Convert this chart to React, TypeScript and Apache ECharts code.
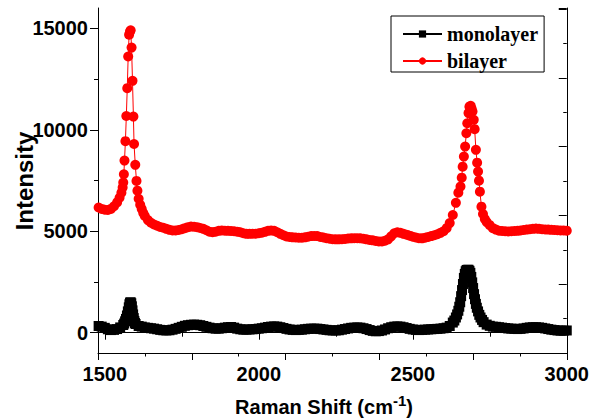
import React, { useEffect, useRef } from "react";
import * as echarts from "echarts";

const xLabelValues = [1500, 2000, 2500, 3000];
const xMinorTicks = [1750, 2250, 2750];
const yLabelValues = [0, 5000, 10000, 15000];
const yMinorTicks = [2500, 7500, 12500];
const seriesNames = ["monolayer", "bilayer"];

const monolayer: [number, number][] = [
  [1480, 330], [1490, 300], [1500, 240], [1510, 170], [1520, 130], [1530, 140], [1540, 180], [1550, 260],
  [1560, 380], [1563, 450], [1566, 560], [1569, 680], [1572, 850], [1575, 1050], [1578, 1250], [1580, 1400],
  [1582, 1480], [1584, 1500], [1586, 1450], [1588, 1300], [1590, 1100], [1592, 900], [1594, 720], [1596, 580],
  [1598, 480], [1600, 430], [1610, 330], [1620, 300], [1630, 260], [1640, 240], [1650, 220],
  [1660, 200], [1670, 170], [1680, 140], [1690, 120], [1700, 110], [1710, 120], [1720, 150], [1730, 190],
  [1740, 240], [1750, 290], [1760, 340], [1770, 370], [1780, 390], [1790, 400], [1800, 390], [1810, 370],
  [1820, 330], [1830, 290], [1840, 250], [1850, 220], [1860, 200], [1870, 200], [1880, 220], [1890, 250],
  [1900, 270], [1910, 280], [1920, 250], [1930, 200], [1940, 170], [1950, 150], [1960, 150], [1970, 160],
  [1980, 170], [1990, 180], [2000, 200], [2010, 220], [2020, 250], [2030, 280], [2040, 300], [2050, 310],
  [2060, 300], [2070, 270], [2080, 230], [2090, 190], [2100, 160], [2110, 140], [2120, 130], [2130, 140],
  [2140, 150], [2150, 170], [2160, 190], [2170, 200], [2180, 200], [2190, 200], [2200, 180], [2210, 160],
  [2220, 140], [2230, 120], [2240, 110], [2250, 110], [2260, 120], [2270, 150], [2280, 180], [2290, 210],
  [2300, 240], [2310, 250], [2320, 260], [2330, 250], [2340, 220], [2350, 180], [2360, 130], [2370, 90],
  [2380, 70], [2390, 80], [2400, 110], [2410, 160], [2420, 220], [2430, 270], [2440, 300], [2450, 310],
  [2460, 300], [2470, 270], [2480, 230], [2490, 190], [2500, 160], [2510, 140], [2520, 130], [2530, 140],
  [2540, 150], [2550, 160], [2560, 170], [2570, 180], [2580, 190], [2590, 200], [2600, 220], [2610, 250],
  [2620, 330], [2630, 500], [2635, 600], [2640, 750], [2644, 900], [2648, 1080], [2651, 1280], [2654, 1500],
  [2657, 1800], [2660, 2100], [2663, 2400], [2666, 2700], [2669, 2900], [2672, 3030], [2675, 3090], [2678, 3100],
  [2681, 3100], [2684, 3050], [2687, 2950], [2690, 2750], [2693, 2480], [2696, 2200], [2699, 1900], [2702, 1650],
  [2705, 1420], [2708, 1230], [2712, 1050], [2716, 880], [2720, 750], [2725, 630], [2730, 520],
  [2740, 400], [2750, 340], [2760, 300], [2770, 290], [2780, 270], [2790, 250],
  [2800, 230], [2810, 210], [2820, 200], [2830, 190], [2840, 180], [2850, 190], [2860, 210], [2870, 240],
  [2880, 260], [2890, 270], [2900, 270], [2910, 260], [2920, 240], [2930, 210], [2940, 180], [2950, 150],
  [2960, 130], [2970, 110], [2980, 100], [2990, 100], [3000, 110],
];

const bilayer: [number, number][] = [
  [1480, 6170], [1490, 6100], [1500, 6060], [1510, 6050], [1520, 6100], [1530, 6230], [1540, 6420], [1548, 6650],
  [1554, 6900], [1558, 7150], [1560, 7400], [1562, 7810], [1564, 8480], [1567, 9440], [1570, 10680], [1573, 12050],
  [1576, 13610], [1579, 14680], [1582, 14840], [1584, 14900], [1587, 14050], [1590, 12410], [1593, 10650], [1595, 9300],
  [1599, 8270], [1603, 7480], [1606, 7000], [1610, 6600], [1615, 6300], [1620, 6100], [1625, 5900], [1630, 5750],
  [1640, 5550], [1650, 5420], [1660, 5330], [1670, 5270], [1680, 5210], [1690, 5170], [1700, 5120], [1710, 5070],
  [1720, 5040], [1730, 5040], [1740, 5060], [1750, 5100], [1760, 5150], [1770, 5200], [1780, 5230], [1790, 5220],
  [1800, 5200], [1810, 5160], [1820, 5120], [1830, 5050], [1840, 4980], [1850, 4950], [1860, 4980], [1870, 5020],
  [1880, 5040], [1890, 5030], [1900, 5020], [1910, 5010], [1920, 5000], [1930, 4980], [1940, 4950], [1950, 4900],
  [1960, 4870], [1970, 4870], [1980, 4880], [1990, 4880], [2000, 4900], [2010, 4930], [2020, 4970], [2030, 5020],
  [2040, 5040], [2050, 5020], [2060, 4950], [2070, 4870], [2080, 4800], [2090, 4740], [2100, 4720], [2110, 4700],
  [2120, 4690], [2130, 4680], [2140, 4680], [2150, 4700], [2160, 4730], [2170, 4760], [2180, 4770], [2190, 4760],
  [2200, 4720], [2210, 4690], [2220, 4660], [2230, 4630], [2240, 4610], [2250, 4600], [2260, 4600], [2270, 4610],
  [2280, 4620], [2290, 4640], [2300, 4650], [2310, 4660], [2320, 4660], [2330, 4650], [2340, 4630], [2350, 4600],
  [2360, 4570], [2370, 4550], [2380, 4520], [2390, 4500], [2400, 4500], [2410, 4530], [2420, 4600], [2430, 4750],
  [2440, 4900], [2450, 4950], [2460, 4920], [2470, 4870], [2480, 4830], [2490, 4780], [2500, 4730], [2510, 4690],
  [2520, 4660], [2530, 4650], [2540, 4680], [2550, 4720], [2560, 4760], [2570, 4800], [2580, 4850], [2590, 4920],
  [2600, 5000], [2610, 5150], [2620, 5400], [2630, 5800], [2640, 6400], [2648, 6900], [2655, 7200], [2659, 7640],
  [2662, 8180], [2666, 8680], [2670, 9170], [2674, 9830], [2677, 10320], [2681, 10820], [2684, 11140], [2688, 11180],
  [2691, 11050], [2694, 10900], [2698, 10490], [2701, 10030], [2705, 9010], [2709, 8380], [2712, 7940], [2715, 7490],
  [2718, 6950], [2723, 6210], [2728, 5850], [2734, 5600], [2740, 5450], [2750, 5300], [2760, 5150], [2770, 5080],
  [2780, 5030], [2790, 5010], [2800, 5000], [2810, 4990], [2820, 5000], [2830, 5010], [2840, 5020], [2850, 5040],
  [2860, 5060], [2870, 5080], [2880, 5100], [2890, 5120], [2900, 5130], [2910, 5120], [2920, 5100], [2930, 5090],
  [2940, 5080], [2950, 5070], [2960, 5060], [2970, 5050], [2980, 5040], [2990, 5040], [3000, 5030],
];

const SANS = '"Liberation Sans", Arial, sans-serif';
const SERIF = '"Liberation Serif", "Times New Roman", serif';
const AX = { color: "#000", width: 1 };

export default function App() {
  const ref = useRef<HTMLDivElement>(null);
  useEffect(() => {
    if (!ref.current) return;
    const chart = echarts.init(ref.current, undefined, { renderer: "svg" });
    const labelStyle = {
      fontFamily: SANS, fontWeight: "bold" as const, fontSize: 20, color: "#000",
      formatter: (v: number) => String(v),
    };
    chart.setOption({
      animation: false,
      backgroundColor: "#fff",
      grid: { left: 98, right: 23.5, top: 8, bottom: 65, containLabel: false },
      xAxis: [
        {
          type: "value", position: "bottom", min: 1478, max: 3000,
          axisLine: { show: true, lineStyle: AX },
          axisTick: { show: true, customValues: xLabelValues, length: 7, lineStyle: AX },
          axisLabel: { show: true, customValues: xLabelValues, margin: 11, ...labelStyle },
          splitLine: { show: false },
        },
        {
          type: "value", position: "bottom", min: 1478, max: 3000,
          axisLine: { show: false },
          axisTick: { show: true, customValues: xMinorTicks, length: 4, lineStyle: AX },
          axisLabel: { show: false },
          splitLine: { show: false },
        },
        {
          type: "value", position: "top", min: 0, max: 5, interval: 1,
          axisLine: { show: true, lineStyle: AX },
          axisTick: { show: true, inside: true, length: 7, lineStyle: AX },
          minorTick: { show: true, splitNumber: 2, length: 3.5, lineStyle: AX },
          axisLabel: { show: false },
          splitLine: { show: false },
        },
      ],
      yAxis: [
        {
          type: "value", position: "left", min: -1000, max: 16000,
          axisLine: { show: true, lineStyle: AX },
          axisTick: { show: true, customValues: yLabelValues, length: 8, lineStyle: AX },
          axisLabel: { show: true, customValues: yLabelValues, margin: 10, ...labelStyle },
          splitLine: { show: false },
        },
        {
          type: "value", position: "left", min: -1000, max: 16000,
          axisLine: { show: false },
          axisTick: { show: true, customValues: yMinorTicks, length: 4, lineStyle: AX },
          axisLabel: { show: false },
          splitLine: { show: false },
        },
        {
          type: "value", position: "right", min: 0, max: 5.015, interval: 1,
          axisLine: { show: true, lineStyle: AX },
          axisTick: { show: true, inside: true, length: 8, lineStyle: AX },
          minorTick: { show: true, splitNumber: 2, length: 3.5, lineStyle: AX },
          axisLabel: { show: false },
          splitLine: { show: false },
        },
      ],
      legend: {
        data: seriesNames,
        orient: "vertical",
        left: 391,
        top: 16,
        padding: [8, 6, 1, 11],
        itemGap: 7,
        itemWidth: 39,
        itemHeight: 9,
        borderColor: "#000",
        borderWidth: 1,
        borderRadius: 0,
        backgroundColor: "#fff",
        textStyle: { fontFamily: SERIF, fontWeight: "bold", fontSize: 20, color: "#000", lineHeight: 20 },
      },
      graphic: [
        {
          type: "text", x: 24, y: 181, rotation: Math.PI / 2,
          style: { text: "Intensity", fontFamily: SANS, fontWeight: "bold", fontSize: 24, fill: "#000", align: "center", verticalAlign: "middle" },
        },
        {
          type: "text", x: 324, y: 405,
          style: {
            text: "{a|Raman Shift (cm}{s|-1}{a|)}",
            align: "center", verticalAlign: "middle",
            rich: {
              a: { fontFamily: SANS, fontWeight: "bold", fontSize: 20, fill: "#000", lineHeight: 24, verticalAlign: "bottom" },
              s: { fontFamily: SANS, fontWeight: "bold", fontSize: 15, fill: "#000", lineHeight: 24, verticalAlign: "top" },
            },
          },
        },
      ],
      series: [
        {
          name: "monolayer", type: "line", xAxisIndex: 0, yAxisIndex: 0,
          data: monolayer, symbol: "rect", symbolSize: 10, showSymbol: true,
          itemStyle: { color: "#000" }, lineStyle: { color: "#000", width: 1 },
        },
        {
          name: "bilayer", type: "line", xAxisIndex: 0, yAxisIndex: 0,
          data: bilayer, symbol: "circle", symbolSize: 10, showSymbol: true,
          itemStyle: { color: "#ff0000" }, lineStyle: { color: "#ff0000", width: 1 },
        },
      ],
    });
    return () => chart.dispose();
  }, []);
  return <div ref={ref} style={{ position: "fixed", left: 0, top: 0, width: 592, height: 418 }} />;
}
